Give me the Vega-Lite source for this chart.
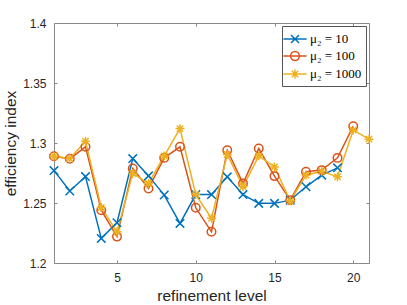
{
  "$schema": "https://vega.github.io/schema/vega-lite/v6.json",
  "width": 315,
  "height": 240,
  "autosize": "none",
  "padding": {"left": 54, "top": 23, "right": 38, "bottom": 42},
  "background": "white",
  "config": {
    "view": {"stroke": "#8a8a8a", "strokeWidth": 1},
    "axis": {
      "grid": false,
      "domain": false,
      "labelFont": "Liberation Sans",
      "labelFontSize": 12,
      "labelColor": "#262626",
      "titleFont": "Liberation Sans",
      "titleFontSize": 15.5,
      "titleFontWeight": "normal",
      "titleColor": "#262626",
      "tickColor": "#8a8a8a",
      "tickSize": -3,
      "tickWidth": 1
    },
    "legend": {
      "orient": "top-right",
      "offset": 3,
      "padding": 4,
      "fillColor": "white",
      "strokeColor": "#555555",
      "symbolSize": 256,
      "symbolStrokeWidth": 1.5,
      "symbolOpacity": 1,
      "rowPadding": 1,
      "labelOffset": 6,
      "labelFont": "Liberation Serif",
      "labelFontSize": 13,
      "labelColor": "#000000",
      "title": null
    }
  },
  "data": {
    "values": [
      {"level": 1, "series": "μ₂ = 10", "value": 1.277},
      {"level": 2, "series": "μ₂ = 10", "value": 1.260},
      {"level": 3, "series": "μ₂ = 10", "value": 1.272},
      {"level": 4, "series": "μ₂ = 10", "value": 1.2205},
      {"level": 5, "series": "μ₂ = 10", "value": 1.2335},
      {"level": 6, "series": "μ₂ = 10", "value": 1.287},
      {"level": 7, "series": "μ₂ = 10", "value": 1.2726},
      {"level": 8, "series": "μ₂ = 10", "value": 1.2566},
      {"level": 9, "series": "μ₂ = 10", "value": 1.233},
      {"level": 10, "series": "μ₂ = 10", "value": 1.257},
      {"level": 11, "series": "μ₂ = 10", "value": 1.257},
      {"level": 12, "series": "μ₂ = 10", "value": 1.2718},
      {"level": 13, "series": "μ₂ = 10", "value": 1.257},
      {"level": 14, "series": "μ₂ = 10", "value": 1.2497},
      {"level": 15, "series": "μ₂ = 10", "value": 1.2497},
      {"level": 16, "series": "μ₂ = 10", "value": 1.2524},
      {"level": 17, "series": "μ₂ = 10", "value": 1.2635},
      {"level": 18, "series": "μ₂ = 10", "value": 1.2732},
      {"level": 19, "series": "μ₂ = 10", "value": 1.2793},
      {"level": 1, "series": "μ₂ = 100", "value": 1.289},
      {"level": 2, "series": "μ₂ = 100", "value": 1.2868},
      {"level": 3, "series": "μ₂ = 100", "value": 1.2968},
      {"level": 4, "series": "μ₂ = 100", "value": 1.244},
      {"level": 5, "series": "μ₂ = 100", "value": 1.222},
      {"level": 6, "series": "μ₂ = 100", "value": 1.2788},
      {"level": 7, "series": "μ₂ = 100", "value": 1.2621},
      {"level": 8, "series": "μ₂ = 100", "value": 1.2876},
      {"level": 9, "series": "μ₂ = 100", "value": 1.2968},
      {"level": 10, "series": "μ₂ = 100", "value": 1.246},
      {"level": 11, "series": "μ₂ = 100", "value": 1.226},
      {"level": 12, "series": "μ₂ = 100", "value": 1.294},
      {"level": 13, "series": "μ₂ = 100", "value": 1.2663},
      {"level": 14, "series": "μ₂ = 100", "value": 1.2954},
      {"level": 15, "series": "μ₂ = 100", "value": 1.2724},
      {"level": 16, "series": "μ₂ = 100", "value": 1.2524},
      {"level": 17, "series": "μ₂ = 100", "value": 1.276},
      {"level": 18, "series": "μ₂ = 100", "value": 1.2774},
      {"level": 19, "series": "μ₂ = 100", "value": 1.2876},
      {"level": 20, "series": "μ₂ = 100", "value": 1.314},
      {"level": 1, "series": "μ₂ = 1000", "value": 1.289},
      {"level": 2, "series": "μ₂ = 1000", "value": 1.287},
      {"level": 3, "series": "μ₂ = 1000", "value": 1.3015},
      {"level": 4, "series": "μ₂ = 1000", "value": 1.2463},
      {"level": 5, "series": "μ₂ = 1000", "value": 1.226},
      {"level": 6, "series": "μ₂ = 1000", "value": 1.2746},
      {"level": 7, "series": "μ₂ = 1000", "value": 1.2663},
      {"level": 8, "series": "μ₂ = 1000", "value": 1.2893},
      {"level": 9, "series": "μ₂ = 1000", "value": 1.312},
      {"level": 10, "series": "μ₂ = 1000", "value": 1.257},
      {"level": 11, "series": "μ₂ = 1000", "value": 1.2372},
      {"level": 12, "series": "μ₂ = 1000", "value": 1.2904},
      {"level": 13, "series": "μ₂ = 1000", "value": 1.2635},
      {"level": 14, "series": "μ₂ = 1000", "value": 1.2893},
      {"level": 15, "series": "μ₂ = 1000", "value": 1.2801},
      {"level": 16, "series": "μ₂ = 1000", "value": 1.2518},
      {"level": 17, "series": "μ₂ = 1000", "value": 1.2732},
      {"level": 18, "series": "μ₂ = 1000", "value": 1.2765},
      {"level": 19, "series": "μ₂ = 1000", "value": 1.2718},
      {"level": 20, "series": "μ₂ = 1000", "value": 1.3107},
      {"level": 21, "series": "μ₂ = 1000", "value": 1.3032}
    ]
  },
  "layer": [
    {
      "mark": {"type": "line", "strokeWidth": 1.5},
      "encoding": {
        "x": {"field": "level", "type": "quantitative", "scale": {"domain": [1, 21], "nice": false, "zero": false},
              "axis": {"orient": "bottom", "values": [5, 10, 15, 20], "title": "refinement level", "labelPadding": 12, "titlePadding": 5}},
        "y": {"field": "value", "type": "quantitative", "scale": {"domain": [1.2, 1.4], "nice": false, "zero": false},
              "axis": {"orient": "left", "values": [1.2, 1.25, 1.3, 1.35, 1.4], "format": "~g", "title": "efficiency index", "labelPadding": 11, "titlePadding": 4}},
        "color": {"field": "series", "type": "nominal", "sort": ["μ₂ = 10", "μ₂ = 100", "μ₂ = 1000"],
                  "scale": {"domain": ["μ₂ = 10", "μ₂ = 100", "μ₂ = 1000"], "range": ["#0072BD", "#D95319", "#EDB120"]}, "legend": null}
      }
    },
    {
      "mark": {"type": "point", "filled": false, "strokeWidth": 1.5, "size": 72, "opacity": 1},
      "encoding": {
        "x": {"field": "level", "type": "quantitative", "scale": {"domain": [1, 21], "nice": false, "zero": false},
              "axis": {"orient": "top", "values": [5, 10, 15, 20], "labels": false, "title": null}},
        "y": {"field": "value", "type": "quantitative", "scale": {"domain": [1.2, 1.4], "nice": false, "zero": false},
              "axis": {"orient": "right", "values": [1.2, 1.25, 1.3, 1.35, 1.4], "labels": false, "title": null}},
        "color": {"field": "series", "type": "nominal",
                  "scale": {"domain": ["μ₂ = 10", "μ₂ = 100", "μ₂ = 1000"], "range": ["#0072BD", "#D95319", "#EDB120"]}, "legend": null},
        "shape": {"field": "series", "type": "nominal",
                  "scale": {"domain": ["μ₂ = 10", "μ₂ = 100", "μ₂ = 1000"],
                            "range": ["M-1,-1L1,1M-1,1L1,-1", "circle", "M0,-1.05L0,1.05M-1.05,0L1.05,0M-0.75,-0.75L0.75,0.75M-0.75,0.75L0.75,-0.75"]},
                  "legend": null}
      }
    },
    {
      "mark": {"type": "point", "filled": false, "strokeWidth": 1.5, "opacity": 0},
      "encoding": {
        "x": {"field": "level", "type": "quantitative", "axis": null},
        "y": {"field": "value", "type": "quantitative", "axis": null},
        "color": {"field": "series", "type": "nominal",
                  "scale": {"domain": ["μ₂ = 10", "μ₂ = 100", "μ₂ = 1000"], "range": ["#0072BD", "#D95319", "#EDB120"]}},
        "shape": {"field": "series", "type": "nominal",
                  "scale": {"domain": ["μ₂ = 10", "μ₂ = 100", "μ₂ = 1000"],
                            "range": ["M-1.45,0L1.45,0M-0.5,-0.5L0.5,0.5M-0.5,0.5L0.5,-0.5",
                                      "M-1.45,0L1.45,0M0.55,0A0.55,0.55,0,1,1,-0.55,0A0.55,0.55,0,1,1,0.55,0",
                                      "M-1.45,0L1.45,0M0,-0.55L0,0.55M-0.4,-0.4L0.4,0.4M-0.4,0.4L0.4,-0.4"]}}
      }
    }
  ],
  "resolve": {
    "scale": {"color": "independent", "shape": "independent"},
    "axis": {"x": "independent", "y": "independent"}
  }
}
